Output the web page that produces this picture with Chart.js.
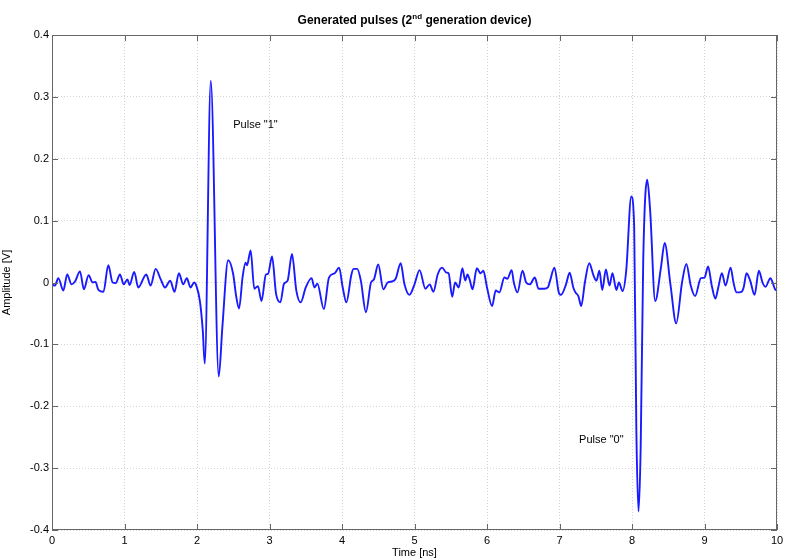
<!DOCTYPE html>
<html>
<head>
<meta charset="utf-8">
<script src="https://cdn.jsdelivr.net/npm/chart.js@4"></script>
<style>
  html, body { margin: 0; padding: 0; background: #fff; }
  #wrap { width: 785px; height: 560px; }
</style>
</head>
<body>
<div id="wrap"><canvas id="pulses" width="785" height="560"></canvas></div>
<script>
const timeNs = [
  0.00, 0.04, 0.087, 0.156, 0.21, 0.27, 0.32, 0.386, 0.44, 0.505,
  0.56, 0.60, 0.64, 0.71, 0.776, 0.836, 0.88, 0.937, 0.99, 1.04,
  1.07, 1.134, 1.19, 1.30, 1.36, 1.43, 1.50, 1.56, 1.63, 1.69,
  1.75, 1.81, 1.86, 1.91, 1.96, 1.99, 2.04, 2.08, 2.107, 2.19,
  2.30, 2.35, 2.43, 2.50, 2.54, 2.58, 2.63, 2.67, 2.69, 2.74,
  2.79, 2.84, 2.89, 2.95, 2.98, 3.035, 3.09, 3.15, 3.20, 3.25,
  3.31, 3.37, 3.43, 3.50, 3.58, 3.62, 3.66, 3.75, 3.82, 3.90,
  3.96, 4.01, 4.06, 4.13, 4.16, 4.21, 4.26, 4.33, 4.40, 4.44,
  4.50, 4.57, 4.63, 4.70, 4.74, 4.81, 4.86, 4.93, 5.00, 5.07,
  5.15, 5.21, 5.26, 5.32, 5.38, 5.44, 5.47, 5.52, 5.56, 5.61,
  5.66, 5.70, 5.73, 5.76, 5.80, 5.86, 5.91, 5.95, 6.00, 6.07,
  6.12, 6.17, 6.24, 6.28, 6.34, 6.37, 6.42, 6.49, 6.54, 6.59,
  6.66, 6.71, 6.79, 6.84, 6.87, 6.93, 6.99, 7.02, 7.09, 7.14,
  7.19, 7.22, 7.26, 7.30, 7.35, 7.41, 7.47, 7.51, 7.55, 7.59,
  7.64, 7.69, 7.73, 7.785, 7.82, 7.87, 7.92, 7.99, 8.03, 8.06,
  8.09, 8.12, 8.155, 8.21, 8.25, 8.32, 8.40, 8.45, 8.53, 8.61,
  8.69, 8.75, 8.81, 8.87, 8.95, 9.00, 9.05, 9.10, 9.15, 9.19,
  9.24, 9.29, 9.36, 9.40, 9.44, 9.51, 9.54, 9.58, 9.63, 9.69,
  9.75, 9.80, 9.84, 9.91, 9.94, 9.98, 10.0
];
const amplitudeV = [
  -0.003, -0.005, 0.007, -0.013, 0.013, -0.003, 0.002, 0.018, -0.011, 0.012,
  0.000, 0.001, -0.012, -0.015, 0.028, 0.000, -0.001, 0.013, -0.003, 0.005,
  -0.004, 0.017, -0.008, 0.013, -0.005, 0.022, 0.005, -0.008, 0.003, -0.015,
  0.015, -0.003, 0.007, -0.008, 0.000, -0.005, -0.030, -0.078, -0.131, 0.326,
  -0.152, -0.072, 0.036, 0.013, -0.022, -0.042, 0.010, 0.032, 0.028, 0.052,
  -0.010, -0.006, -0.030, 0.013, 0.014, 0.042, -0.018, -0.032, -0.002, 0.003,
  0.046, -0.013, -0.032, -0.008, 0.007, -0.008, -0.002, -0.043, 0.008, 0.015,
  0.024, -0.008, -0.032, 0.013, 0.022, 0.022, 0.003, -0.048, 0.000, 0.005,
  0.029, -0.011, 0.000, 0.002, 0.006, 0.031, -0.002, -0.020, -0.003, 0.020,
  -0.010, -0.003, -0.015, 0.013, 0.024, 0.016, 0.015, -0.023, 0.000, -0.008,
  0.023, 0.003, 0.013, 0.005, -0.011, 0.023, 0.015, 0.019, -0.008, -0.038,
  -0.013, -0.016, 0.008, 0.006, 0.020, 0.000, -0.016, 0.019, 0.000, -0.003,
  0.008, -0.010, -0.010, -0.008, 0.003, 0.024, -0.016, -0.020, -0.003, 0.016,
  -0.008, -0.016, -0.022, -0.038, 0.000, 0.031, 0.011, 0.003, 0.019, -0.012,
  0.021, -0.005, 0.015, -0.012, 0.000, -0.014, 0.019, 0.139, 0.090, -0.238,
  -0.370, -0.265, 0.036, 0.166, 0.117, -0.030, 0.025, 0.064, -0.003, -0.066,
  0.000, 0.030, -0.005, -0.022, 0.007, 0.008, 0.026, -0.005, -0.026, -0.008,
  0.015, -0.005, 0.024, 0.000, -0.016, -0.015, -0.008, 0.015, 0.003, -0.020,
  0.019, 0.000, -0.007, 0.007, 0.000, -0.012, -0.010
];
const xTicks = [0, 1, 2, 3, 4, 5, 6, 7, 8, 9, 10];
const yTicks = [-0.4, -0.3, -0.2, -0.1, 0, 0.1, 0.2, 0.3, 0.4];
const notes = [
  { text: 'Pulse "1"', x: 2.5, y: 0.255 },
  { text: 'Pulse "0"', x: 7.27, y: -0.255 }
];

const FONT = "'Liberation Sans', Arial, sans-serif";

const points = timeNs.map((t, i) => ({ x: t, y: amplitudeV[i] }));

// MATLAB-style box, inward ticks, title with superscript and text notes
const matlabFrame = {
  id: 'matlabFrame',
  afterDraw(chart) {
    const { ctx, chartArea: a, scales } = chart;
    ctx.save();
    ctx.strokeStyle = '#666';
    ctx.lineWidth = 1;
    ctx.strokeRect(a.left + 0.5, a.top + 0.5, a.right - a.left - 1, a.bottom - a.top - 1);
    ctx.beginPath();
    xTicks.forEach(v => {
      const px = Math.round(scales.x.getPixelForValue(v)) + 0.5;
      ctx.moveTo(px, a.bottom); ctx.lineTo(px, a.bottom - 6);
      ctx.moveTo(px, a.top); ctx.lineTo(px, a.top + 6);
    });
    yTicks.forEach(v => {
      const py = Math.round(scales.y.getPixelForValue(v)) + 0.5;
      ctx.moveTo(a.left, py); ctx.lineTo(a.left + 6, py);
      ctx.moveTo(a.right, py); ctx.lineTo(a.right - 6, py);
    });
    ctx.stroke();

    // title: "Generated pulses (2nd generation device)" with superscript
    const p1 = 'Generated pulses (2', sup = 'nd', p2 = ' generation device)';
    ctx.fillStyle = '#000';
    ctx.textBaseline = 'alphabetic';
    ctx.textAlign = 'left';
    ctx.font = 'bold 12px ' + FONT;
    const w1 = ctx.measureText(p1).width, w3 = ctx.measureText(p2).width;
    ctx.font = 'bold 8px ' + FONT;
    const w2 = ctx.measureText(sup).width;
    let tx = (a.left + a.right) / 2 - (w1 + w2 + w3) / 2;
    const ty = 24;
    ctx.font = 'bold 12px ' + FONT;
    ctx.fillText(p1, tx, ty);
    ctx.font = 'bold 8px ' + FONT;
    ctx.fillText(sup, tx + w1, ty - 5);
    ctx.font = 'bold 12px ' + FONT;
    ctx.fillText(p2, tx + w1 + w2, ty);

    ctx.font = '11px ' + FONT;
    ctx.textBaseline = 'middle';
    notes.forEach(n => {
      ctx.fillText(n.text, scales.x.getPixelForValue(n.x), scales.y.getPixelForValue(n.y));
    });
    ctx.restore();
  }
};

new Chart(document.getElementById('pulses'), {
  type: 'line',
  data: {
    datasets: [{
      data: points,
      borderColor: '#1a1aff',
      borderWidth: 1.9,
      pointRadius: 0,
      cubicInterpolationMode: 'monotone',
      fill: false
    }]
  },
  options: {
    responsive: false,
    animation: false,
    layout: { padding: { left: 0, right: 8, top: 35, bottom: 0 } },
    plugins: { legend: { display: false }, tooltip: { enabled: false } },
    scales: {
      x: {
        type: 'linear',
        min: 0, max: 10,
        afterBuildTicks: s => { s.ticks = xTicks.map(v => ({ value: v })); },
        afterFit: s => { s.height = 30; s.paddingRight = 0; s.paddingLeft = 0; },
        ticks: { color: '#000', font: { family: FONT, size: 11 }, padding: 4, maxRotation: 0 },
        grid: { color: '#d4d4d4', drawTicks: false },
        border: { display: false, dash: [1, 2] },
        title: { display: true, text: 'Time [ns]', color: '#000', font: { family: FONT, size: 11 }, padding: { top: 0, bottom: 0 } }
      },
      y: {
        min: -0.4, max: 0.4,
        afterBuildTicks: s => { s.ticks = yTicks.map(v => ({ value: v })); },
        afterFit: s => { s.width = 52; s.paddingTop = 0; s.paddingBottom = 0; },
        ticks: {
          color: '#000', font: { family: FONT, size: 11 }, padding: 3,
          callback: v => String(Number(v.toFixed(1)))
        },
        grid: { color: '#d4d4d4', drawTicks: false },
        border: { display: false, dash: [1, 2] },
        title: { display: true, text: 'Amplitude [V]', color: '#000', font: { family: FONT, size: 11 }, padding: { top: 0, bottom: 6 } }
      }
    }
  },
  plugins: [matlabFrame]
});
</script>
</body>
</html>
